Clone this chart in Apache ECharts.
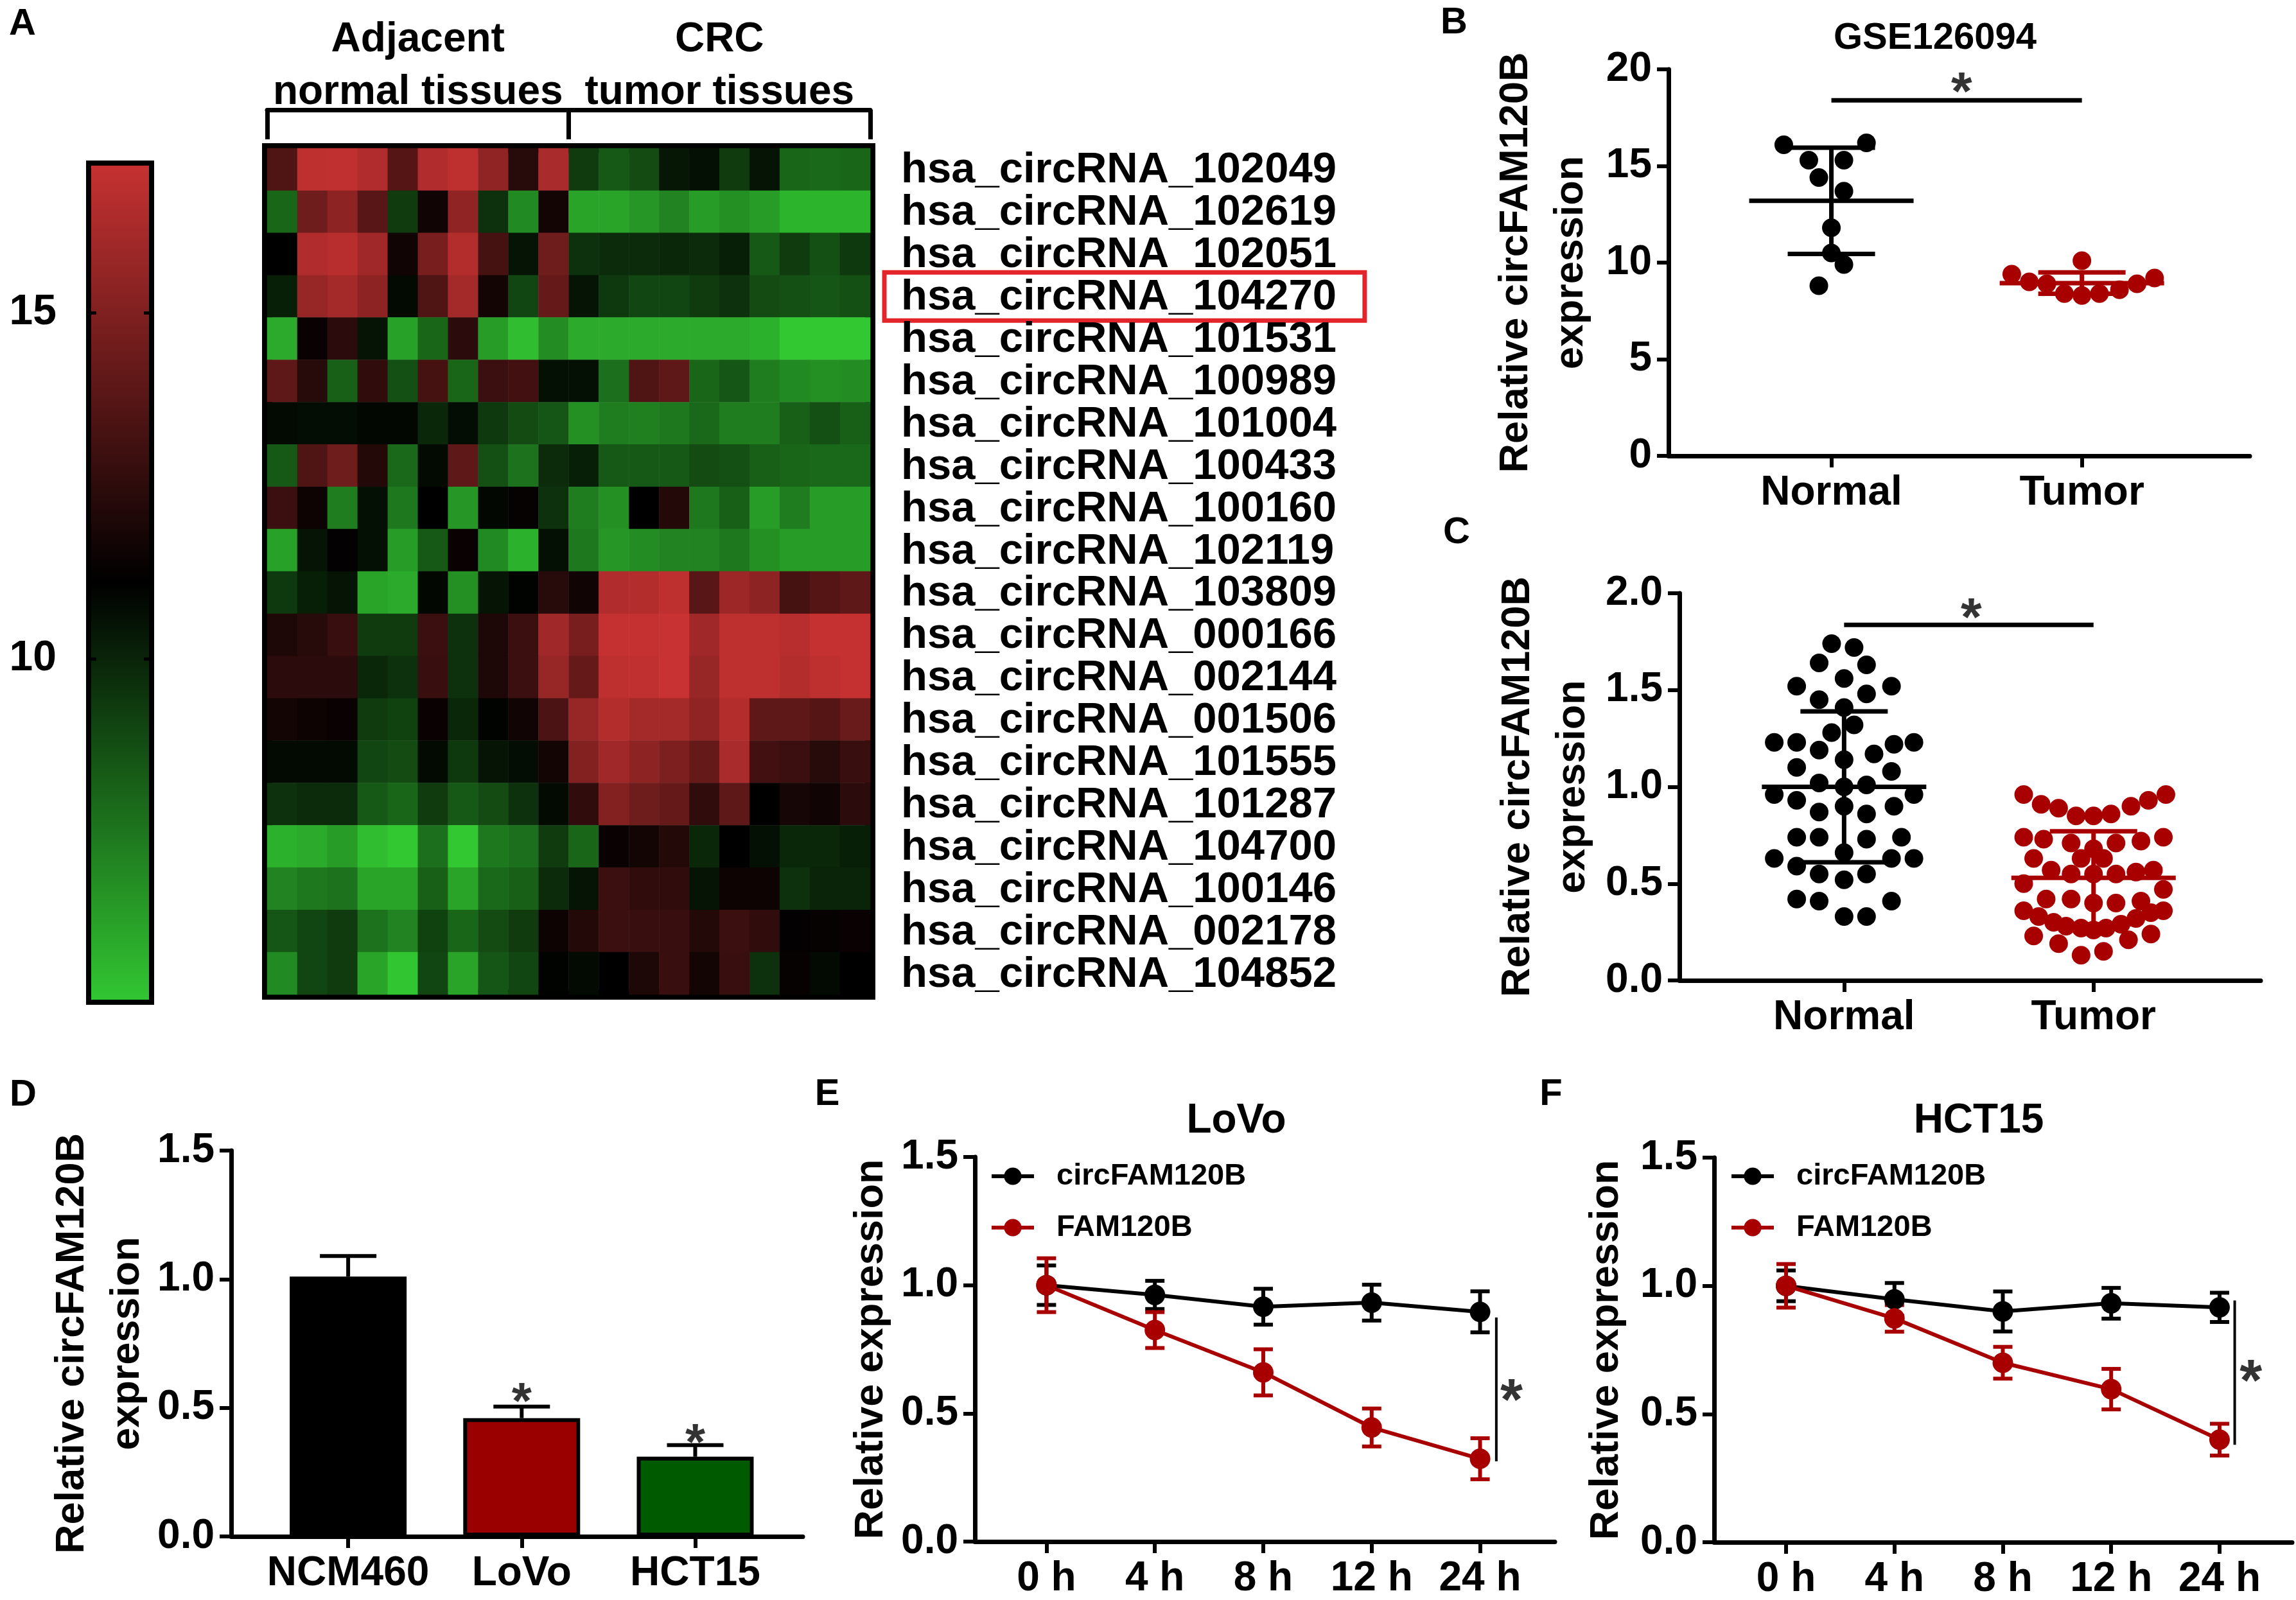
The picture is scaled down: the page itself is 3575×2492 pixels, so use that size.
<!DOCTYPE html>
<html>
<head>
<meta charset="utf-8">
<script src="https://cdn.jsdelivr.net/npm/echarts@6/dist/echarts.min.js"></script>
<style>
html, body { margin: 0; padding: 0; background: #fff; }
#main { width: 3575px; height: 2492px; }
</style>
</head>
<body>
<div id="main"></div>
<script>
// ---- A: heatmap ----
var rowNames = ['hsa_circRNA_102049', 'hsa_circRNA_102619', 'hsa_circRNA_102051', 'hsa_circRNA_104270',
    'hsa_circRNA_101531', 'hsa_circRNA_100989', 'hsa_circRNA_101004', 'hsa_circRNA_100433',
    'hsa_circRNA_100160', 'hsa_circRNA_102119', 'hsa_circRNA_103809', 'hsa_circRNA_000166',
    'hsa_circRNA_002144', 'hsa_circRNA_001506', 'hsa_circRNA_101555', 'hsa_circRNA_101287',
    'hsa_circRNA_104700', 'hsa_circRNA_100146', 'hsa_circRNA_002178', 'hsa_circRNA_104852'];
var highlightRow = 'hsa_circRNA_104270';
var sampleNames = ['N1', 'N2', 'N3', 'N4', 'N5', 'N6', 'N7', 'N8', 'N9', 'N10',
    'T1', 'T2', 'T3', 'T4', 'T5', 'T6', 'T7', 'T8', 'T9', 'T10'];
var groupNames = ['Adjacent\nnormal tissues', 'CRC\ntumor tissues'];
// one row per circRNA, 10 normal then 10 tumor samples
var heatValues = [
    [13.5, 16.9, 17.0, 16.5, 13.7, 16.5, 16.9, 15.5, 12.3, 16.3, 9.3, 8.4, 8.8, 10.4, 10.6, 9.3, 10.5, 8.0, 7.9, 8.0],
    [8.0, 14.5, 15.4, 13.8, 9.3, 11.6, 15.5, 9.6, 6.9, 11.7, 6.1, 6.1, 6.5, 7.1, 6.3, 6.7, 6.3, 5.6, 5.6, 5.6],
    [11.1, 16.5, 16.7, 16.0, 11.6, 14.8, 16.6, 13.2, 10.5, 14.5, 9.6, 9.8, 9.8, 9.9, 9.8, 10.2, 8.4, 9.3, 8.7, 9.4],
    [10.2, 15.7, 16.1, 15.4, 10.8, 13.5, 16.1, 11.7, 9.0, 14.2, 10.5, 9.4, 9.0, 9.0, 9.3, 9.6, 8.8, 8.7, 8.5, 8.7],
    [5.9, 11.4, 12.4, 10.5, 6.2, 8.0, 12.4, 6.3, 5.3, 6.8, 5.9, 5.9, 5.9, 5.9, 5.9, 5.9, 5.7, 5.0, 5.0, 5.0],
    [14.0, 12.3, 8.2, 12.6, 8.7, 13.2, 8.0, 12.9, 13.1, 10.6, 10.6, 7.7, 13.5, 14.0, 8.0, 8.5, 7.3, 6.9, 6.7, 6.8],
    [10.8, 10.7, 10.7, 10.9, 10.9, 9.9, 10.7, 9.4, 8.8, 8.5, 6.7, 7.3, 7.2, 7.4, 7.9, 7.3, 7.3, 8.2, 8.7, 8.2],
    [8.4, 13.5, 14.5, 12.2, 7.9, 10.8, 14.0, 8.7, 7.6, 9.8, 10.2, 8.4, 8.4, 8.4, 8.8, 8.7, 8.2, 8.0, 7.9, 7.9],
    [12.9, 11.5, 7.3, 10.6, 7.4, 11.1, 6.5, 10.9, 11.3, 9.6, 7.3, 6.7, 11.1, 12.2, 7.4, 8.2, 6.3, 7.3, 6.3, 6.3],
    [6.2, 10.5, 11.2, 10.6, 6.3, 8.4, 11.4, 6.9, 5.7, 10.6, 7.4, 6.5, 6.8, 7.1, 7.1, 7.4, 6.7, 6.3, 6.3, 6.3],
    [9.4, 10.2, 10.5, 6.1, 5.9, 10.9, 6.7, 10.5, 11.0, 12.3, 11.6, 16.5, 16.6, 16.9, 13.8, 15.9, 15.4, 13.2, 13.7, 14.0],
    [12.0, 12.3, 12.8, 9.3, 9.3, 12.9, 9.6, 12.0, 12.9, 16.0, 14.8, 17.1, 17.1, 17.2, 16.0, 16.9, 16.9, 16.7, 17.1, 17.1],
    [12.4, 12.4, 12.4, 9.9, 9.6, 12.8, 9.6, 12.0, 12.9, 15.7, 14.2, 16.9, 17.0, 17.2, 15.7, 16.9, 16.9, 16.6, 16.9, 17.1],
    [11.7, 11.5, 11.4, 9.3, 9.1, 11.4, 9.9, 11.0, 11.6, 13.4, 15.7, 16.6, 16.1, 16.1, 15.5, 16.6, 14.0, 14.0, 13.7, 14.3],
    [10.8, 10.8, 10.8, 9.0, 8.8, 10.8, 9.4, 10.5, 10.7, 11.7, 15.1, 16.0, 15.4, 14.9, 14.2, 16.3, 13.1, 12.9, 12.3, 12.8],
    [9.6, 9.8, 9.8, 8.4, 8.0, 9.3, 8.4, 8.8, 9.6, 10.8, 12.6, 15.1, 14.5, 14.2, 12.6, 14.0, 11.1, 11.8, 11.6, 12.4],
    [5.7, 5.9, 6.3, 5.3, 5.0, 7.7, 5.0, 7.4, 7.7, 9.3, 8.0, 11.4, 11.7, 12.2, 9.9, 11.1, 10.6, 9.9, 9.9, 10.2],
    [7.1, 7.4, 7.6, 6.1, 6.1, 8.2, 6.1, 7.9, 8.2, 9.8, 10.5, 12.9, 12.6, 12.6, 10.5, 11.5, 11.5, 9.6, 10.0, 10.0],
    [8.5, 9.0, 9.3, 7.6, 7.1, 9.1, 8.0, 8.8, 9.3, 11.5, 12.2, 12.9, 12.8, 12.8, 12.2, 12.9, 12.6, 11.2, 11.3, 11.4],
    [6.9, 9.0, 9.3, 6.1, 5.1, 9.0, 6.1, 8.5, 9.0, 11.0, 10.8, 11.1, 12.0, 12.8, 11.7, 12.8, 9.6, 11.3, 10.8, 11.1]
];
var scaleMin = 5;
var scaleMax = 17.2;
var colorbarTicks = [10, 15];

// ---- B: GSE126094 ----
var groupLabels = ['Normal', 'Tumor'];
var bNormal = [16.1, 16.2, 15.3, 15.3, 14.4, 13.7, 11.8, 10.5, 9.9, 8.8];
var bNormalJitter = [-0.19, 0.14, -0.09, 0.05, -0.05, 0.05, 0, 0, 0.05, -0.05];
var bTumor = [9.4, 9.0, 8.9, 8.4, 10.1, 8.3, 8.4, 8.6, 8.9, 9.2];
var bTumorJitter = [-0.28, -0.21, -0.14, -0.07, 0, 0, 0.07, 0.15, 0.22, 0.29];
var bMean = [13.2, 8.94];
var bSD = [2.75, 0.55];
var bSig = [18.4, 19.3];   // bar level, star level

// ---- C: tissue cohort ----
var cNormal = [1.74, 1.72, 1.64, 1.63, 1.52, 1.56, 1.52, 1.45, 1.41, 1.48,
    1.32, 1.28, 1.23, 1.23, 1.22, 1.23, 1.19, 1.17, 1.14, 1.10,
    1.08, 1.02, 1.00, 1.01, 0.96, 0.96, 0.93, 0.90, 0.87, 0.90,
    0.86, 0.74, 0.74, 0.73, 0.74, 0.66, 0.63, 0.63, 0.63, 0.59,
    0.55, 0.52, 0.55, 0.42, 0.41, 0.41, 0.33, 0.33];
var cNormalJitter = [-0.05, 0.04, -0.10, 0.09, -0.19, 0, 0.19, -0.10, 0, 0.09,
    0.04, -0.05, -0.28, -0.19, 0.20, 0.28, -0.10, 0.12, 0, -0.19,
    0.19, -0.10, 0, 0.09, -0.28, 0.28, -0.19, 0.20, -0.10, 0,
    0.09, -0.19, -0.10, 0.09, 0.23, 0, -0.28, 0.28, 0.19, -0.19,
    -0.10, 0, 0.09, -0.19, -0.10, 0.19, 0, 0.09];
var cTumor = [0.96, 0.91, 0.89, 0.85, 0.85, 0.86, 0.90, 0.93, 0.96,
    0.74, 0.73, 0.71, 0.68, 0.71, 0.72, 0.74,
    0.63, 0.63, 0.63,
    0.57, 0.55, 0.55, 0.55, 0.56, 0.57,
    0.50, 0.47,
    0.42, 0.42, 0.40, 0.40, 0.41,
    0.36, 0.36,
    0.33, 0.30, 0.28, 0.27, 0.26, 0.27, 0.29, 0.32, 0.35,
    0.23, 0.19, 0.21, 0.24,
    0.13, 0.15];
var cTumorJitter = [-0.28, -0.21, -0.14, -0.07, 0, 0.07, 0.15, 0.22, 0.29,
    -0.28, -0.20, -0.09, 0, 0.09, 0.19, 0.28,
    -0.24, -0.05, 0.04,
    -0.17, -0.09, 0, 0.09, 0.17, 0.24,
    -0.28, 0.28,
    -0.19, -0.09, 0, 0.09, 0.19,
    -0.28, 0.28,
    -0.22, -0.16, -0.11, -0.05, 0, 0.05, 0.11, 0.17, 0.23,
    -0.24, -0.14, 0.14, 0.23,
    -0.05, 0.04];
var cMean = [1.0, 0.53];
var cSD = [0.39, 0.24];
var cSig = [1.837, 1.92];

// ---- D: cell lines ----
var dCells = ['NCM460', 'LoVo', 'HCT15'];
var dMean = [1.01, 0.46, 0.31];
var dErr = [0.08, 0.045, 0.045];
var dStars = [null, 0.56, 0.40];

// ---- E / F: time course ----
var timeLabels = ['0 h', '4 h', '8 h', '12 h', '24 h'];
var eCirc = [1.0, 0.962, 0.916, 0.932, 0.896];
var eCircErr = [0.077, 0.055, 0.07, 0.07, 0.08];
var eFam = [1.0, 0.825, 0.66, 0.445, 0.323];
var eFamErr = [0.105, 0.07, 0.09, 0.074, 0.08];
var eSig = [4.15, 0.874, 0.313, 4.29, 0.59];   // x, top, bottom, star x, star y
var fCirc = [1.0, 0.947, 0.90, 0.932, 0.916];
var fCircErr = [0.06, 0.064, 0.078, 0.06, 0.057];
var fFam = [1.0, 0.873, 0.70, 0.597, 0.40];
var fFamErr = [0.085, 0.052, 0.062, 0.079, 0.062];
var fSig = [4.14, 0.943, 0.38, 4.29, 0.668];

// ---- styling ----
var FONT = '"Liberation Sans", Arial, Helvetica, sans-serif';
var RED = '#a80000';
var BLACK = '#000000';
var lineAxis = { color: BLACK, width: 7 };
var tickStyle = { color: BLACK, width: 6 };

function yValueAxis(grid, max, interval, digits, name, gap) {
    return {
        type: 'value', gridIndex: grid, min: 0, max: max, interval: interval,
        name: name, nameLocation: 'middle', nameRotate: 90, nameGap: gap,
        nameTextStyle: { fontSize: 63, fontWeight: 'bold', color: BLACK, fontFamily: FONT, lineHeight: 86 },
        axisLine: { show: true, onZero: false, lineStyle: lineAxis },
        axisTick: { show: true, length: 18, lineStyle: tickStyle },
        axisLabel: {
            fontSize: 64, fontWeight: 'bold', color: BLACK, fontFamily: FONT, margin: 26,
            formatter: function (v) { return v.toFixed(digits); }
        },
        splitLine: { show: false }
    };
}

function xValueAxis(grid, min, max, labels, first) {
    var pos = labels.map(function (l, i) { return i + first; });
    return {
        type: 'value', gridIndex: grid, min: min, max: max,
        axisLine: { show: true, onZero: false, lineStyle: lineAxis },
        axisTick: { show: true, length: 18, customValues: pos, lineStyle: tickStyle },
        axisLabel: {
            customValues: pos, fontSize: 64, fontWeight: 'bold', color: BLACK, fontFamily: FONT, margin: 26,
            formatter: function (v) { return labels[Math.round(v) - first]; }
        },
        splitLine: { show: false }
    };
}

// mean line + SD whiskers (scatter panels)
function meanSdItem(params, api) {
    var x = api.value(0), m = api.value(1), s = api.value(2);
    var c = api.coord([x, m]);
    var hi = api.coord([x, m + s]);
    var lo = api.coord([x, m - s]);
    var st = { stroke: api.visual('color'), lineWidth: 7 };
    return {
        type: 'group', children: [
            { type: 'line', shape: { x1: c[0] - 128, y1: c[1], x2: c[0] + 128, y2: c[1] }, style: st },
            { type: 'line', shape: { x1: c[0], y1: hi[1], x2: c[0], y2: lo[1] }, style: st },
            { type: 'line', shape: { x1: c[0] - 68, y1: hi[1], x2: c[0] + 68, y2: hi[1] }, style: st },
            { type: 'line', shape: { x1: c[0] - 68, y1: lo[1], x2: c[0] + 68, y2: lo[1] }, style: st }
        ]
    };
}

function errBar(capHalf, upOnly) {
    return function (params, api) {
        var x = api.value(0), y = api.value(1), e = api.value(2);
        var top = api.coord([x, y + e]);
        var bot = api.coord([x, upOnly ? y : y - e]);
        var st = { stroke: api.visual('color'), lineWidth: 6 };
        var ch = [
            { type: 'line', shape: { x1: top[0], y1: top[1], x2: bot[0], y2: bot[1] }, style: st },
            { type: 'line', shape: { x1: top[0] - capHalf, y1: top[1], x2: top[0] + capHalf, y2: top[1] }, style: st }
        ];
        if (!upOnly) {
            ch.push({ type: 'line', shape: { x1: bot[0] - capHalf, y1: bot[1], x2: bot[0] + capHalf, y2: bot[1] }, style: st });
        }
        return { type: 'group', children: ch };
    };
}

function starSeries(axis, data, size) {
    return {
        type: 'scatter', xAxisIndex: axis, yAxisIndex: axis, symbolSize: 1, silent: true,
        itemStyle: { color: 'transparent' },
        label: {
            show: true, position: 'inside', formatter: '*', fontSize: size, fontWeight: 'bold',
            color: BLACK, fontFamily: FONT, offset: [0, Math.round(size * 0.23)]
        },
        data: data
    };
}

function sigLine(axis, pts, width) {
    return {
        type: 'line', xAxisIndex: axis, yAxisIndex: axis, symbol: 'none', silent: true,
        lineStyle: { color: BLACK, width: width }, data: pts
    };
}

function dots(axis, color, data) {
    return {
        type: 'scatter', xAxisIndex: axis, yAxisIndex: axis, symbolSize: 29, silent: true,
        itemStyle: { color: color, opacity: 1 }, data: data
    };
}

function jittered(center, ys, jit) {
    return ys.map(function (y, i) { return [center + jit[i], y]; });
}

function pairs(ys) {
    return ys.map(function (y, i) { return [i, y]; });
}

function triples(ys, es) {
    return ys.map(function (y, i) { return [i, y, es[i]]; });
}

// ---- heatmap data ----
var heatData = [];
heatValues.forEach(function (row, r) {
    row.forEach(function (v, c) { heatData.push([c, r, v]); });
});

var heatLabelStyle = { fontSize: 67, fontWeight: 'bold', fontFamily: FONT, color: BLACK, lineHeight: 70, padding: [6, 44, 2, 26] };
var heatLabelBox = Object.assign({}, heatLabelStyle, { borderColor: '#e3252b', borderWidth: 7 });

var series = [];
// 0: colour scale bar
series.push({
    type: 'bar', xAxisIndex: 0, yAxisIndex: 0, barWidth: '100%', silent: true,
    itemStyle: {
        borderColor: BLACK, borderWidth: 8,
        color: { type: 'linear', x: 0, y: 0, x2: 0, y2: 1, colorStops: [
            { offset: 0, color: '#c83232' }, { offset: 0.5, color: '#000000' }, { offset: 1, color: '#32c832' }] }
    },
    data: [scaleMax]
});
// 1: heatmap
series.push({ type: 'heatmap', xAxisIndex: 1, yAxisIndex: 2, data: heatData, silent: true });

// B
series.push(dots(3, BLACK, jittered(1, bNormal, bNormalJitter)));
series.push(dots(3, RED, jittered(2, bTumor, bTumorJitter)));
series.push({ type: 'custom', xAxisIndex: 3, yAxisIndex: 3, renderItem: meanSdItem, silent: true,
    data: [{ value: [1, bMean[0], bSD[0]], itemStyle: { color: BLACK } }, { value: [2, bMean[1], bSD[1]], itemStyle: { color: RED } }] });
series.push(sigLine(3, [[1, bSig[0]], [2, bSig[0]]], 7));
series.push(starSeries(3, [[1.52, bSig[1]]], 84));

// C
series.push(dots(4, BLACK, jittered(1, cNormal, cNormalJitter)));
series.push(dots(4, RED, jittered(2, cTumor, cTumorJitter)));
series.push({ type: 'custom', xAxisIndex: 4, yAxisIndex: 4, renderItem: meanSdItem, silent: true,
    data: [{ value: [1, cMean[0], cSD[0]], itemStyle: { color: BLACK } }, { value: [2, cMean[1], cSD[1]], itemStyle: { color: RED } }] });
series.push(sigLine(4, [[1, cSig[0]], [2, cSig[0]]], 7));
series.push(starSeries(4, [[1.51, cSig[1]]], 84));

// D
var dColors = [BLACK, '#9b0000', '#005a00'];
series.push({ type: 'custom', xAxisIndex: 5, yAxisIndex: 5, renderItem: errBar(44, true), silent: true,
    itemStyle: { color: BLACK },
    data: dMean.map(function (m, i) { return [i + 1, m, dErr[i]]; }) });
series.push({ type: 'bar', xAxisIndex: 5, yAxisIndex: 5, barWidth: 182, silent: true,
    data: dMean.map(function (m, i) {
        return { value: [i + 1, m], itemStyle: { color: dColors[i], borderColor: BLACK, borderWidth: 6 } };
    }) });
series.push(starSeries(5, dStars.map(function (s, i) { return s === null ? null : [i + 1, s]; })
    .filter(function (p) { return p; }), 80));

// E and F
function timePanel(axis, circ, circErr, fam, famErr, sig) {
    var common = { xAxisIndex: axis, yAxisIndex: axis };
    return [
        Object.assign({ type: 'custom', renderItem: errBar(15, false), silent: true, itemStyle: { color: BLACK },
            data: triples(circ, circErr) }, common),
        Object.assign({ type: 'line', name: 'circFAM120B', symbol: 'circle', symbolSize: 32,
            itemStyle: { color: BLACK }, lineStyle: { color: BLACK, width: 6 }, data: pairs(circ) }, common),
        Object.assign({ type: 'custom', renderItem: errBar(15, false), silent: true, itemStyle: { color: RED },
            data: triples(fam, famErr) }, common),
        Object.assign({ type: 'line', name: 'FAM120B', symbol: 'circle', symbolSize: 32,
            itemStyle: { color: RED }, lineStyle: { color: RED, width: 6 }, data: pairs(fam) }, common),
        sigLine(axis, [[sig[0], sig[1]], [sig[0], sig[2]]], 4),
        starSeries(axis, [[sig[3], sig[4]]], 90)
    ];
}
series = series.concat(timePanel(6, eCirc, eCircErr, eFam, eFamErr, eSig));
series = series.concat(timePanel(7, fCirc, fCircErr, fFam, fFamErr, fSig));

function timeLegend(left) {
    return {
        data: ['circFAM120B', 'FAM120B'], orient: 'vertical', left: left, top: 1800, itemGap: 26,
        itemWidth: 66, itemHeight: 34, selectedMode: false,
        lineStyle: { width: 6 },
        textStyle: { fontSize: 47, fontWeight: 'bold', color: BLACK, fontFamily: FONT, lineHeight: 54, padding: [0, 0, 0, 30] }
    };
}

var option = {
    animation: false,
    backgroundColor: '#ffffff',
    textStyle: { fontFamily: FONT },
    grid: [
        { left: 134, top: 250, width: 106, height: 1315 },
        { left: 416, top: 231, width: 939, height: 1318, show: true, borderColor: BLACK, borderWidth: 16 },
        { left: 2598, top: 108, width: 905, height: 602 },
        { left: 2615, top: 924, width: 905, height: 603 },
        { left: 360, top: 1792, width: 890, height: 601 },
        { left: 1518, top: 1802, width: 903, height: 599 },
        { left: 2669, top: 1803, width: 900, height: 600 }
    ],
    xAxis: [
        { type: 'category', gridIndex: 0, data: ['scale'], show: false },
        { type: 'category', gridIndex: 1, data: sampleNames, show: false },
        {
            type: 'category', gridIndex: 1, data: groupNames, position: 'top', offset: 60, boundaryGap: true,
            axisLine: { show: true, lineStyle: lineAxis },
            axisTick: { show: true, inside: true, length: 46, lineStyle: { color: BLACK, width: 7 } },
            axisLabel: { interval: 0, margin: -14, fontSize: 64, fontWeight: 'bold', color: BLACK, fontFamily: FONT, lineHeight: 82 },
            splitLine: { show: false }
        },
        xValueAxis(2, 0.35, 2.67, groupLabels, 1),
        xValueAxis(3, 0.34, 2.67, groupLabels, 1),
        xValueAxis(4, 0.326, 3.62, dCells, 1),
        xValueAxis(5, -0.66, 4.69, timeLabels, 0),
        xValueAxis(6, -0.664, 4.67, timeLabels, 0)
    ],
    yAxis: [
        {
            type: 'value', gridIndex: 0, min: scaleMin, max: scaleMax, startValue: scaleMin, position: 'left', z: 5,
            axisLine: { show: false },
            axisTick: { show: true, inside: true, length: 16, customValues: colorbarTicks, lineStyle: { color: BLACK, width: 5 } },
            axisLabel: { customValues: colorbarTicks, margin: 46, fontSize: 66, fontWeight: 'bold', color: BLACK, fontFamily: FONT },
            splitLine: { show: false }
        },
        {
            type: 'value', gridIndex: 0, min: scaleMin, max: scaleMax, startValue: scaleMin, position: 'right', z: 5,
            axisLine: { show: false },
            axisTick: { show: true, inside: true, length: 16, customValues: colorbarTicks, lineStyle: { color: BLACK, width: 5 } },
            axisLabel: { show: false },
            splitLine: { show: false }
        },
        {
            type: 'category', gridIndex: 1, data: rowNames, inverse: true, position: 'right',
            axisLine: { show: false }, axisTick: { show: false },
            axisLabel: {
                interval: 0, margin: 22,
                formatter: function (v) { return (v === highlightRow ? '{hl|' : '{n|') + v + '}'; },
                rich: { n: heatLabelStyle, hl: heatLabelBox }
            }
        },
        yValueAxis(2, 20, 5, 0, 'Relative circFAM120B\nexpression', 108),
        yValueAxis(3, 2, 0.5, 1, 'Relative circFAM120B\nexpression', 122),
        yValueAxis(4, 1.5, 0.5, 1, 'Relative circFAM120B\nexpression', 111),
        yValueAxis(5, 1.5, 0.5, 1, 'Relative expression', 116),
        yValueAxis(6, 1.5, 0.5, 1, 'Relative expression', 124)
    ],
    visualMap: {
        show: false, type: 'continuous', seriesIndex: 1, min: scaleMin, max: scaleMax,
        inRange: { color: ['#32c832', '#000000', '#c83232'] }
    },
    legend: [timeLegend(1536), timeLegend(2688)],
    graphic: [
        { type: 'text', x: 35, y: 38, style: { text: 'A', font: 'bold 58px ' + FONT, fill: BLACK, align: 'center', verticalAlign: 'middle' } },
        { type: 'text', x: 2264, y: 36, style: { text: 'B', font: 'bold 58px ' + FONT, fill: BLACK, align: 'center', verticalAlign: 'middle' } },
        { type: 'text', x: 2268, y: 830, style: { text: 'C', font: 'bold 58px ' + FONT, fill: BLACK, align: 'center', verticalAlign: 'middle' } },
        { type: 'text', x: 36, y: 1706, style: { text: 'D', font: 'bold 58px ' + FONT, fill: BLACK, align: 'center', verticalAlign: 'middle' } },
        { type: 'text', x: 1288, y: 1705, style: { text: 'E', font: 'bold 58px ' + FONT, fill: BLACK, align: 'center', verticalAlign: 'middle' } },
        { type: 'text', x: 2415, y: 1705, style: { text: 'F', font: 'bold 58px ' + FONT, fill: BLACK, align: 'center', verticalAlign: 'middle' } },
        { type: 'text', x: 3013, y: 60, style: { text: 'GSE126094', font: 'bold 58px ' + FONT, fill: BLACK, align: 'center', verticalAlign: 'middle' } },
        { type: 'text', x: 1925, y: 1746, style: { text: 'LoVo', font: 'bold 64px ' + FONT, fill: BLACK, align: 'center', verticalAlign: 'middle' } },
        { type: 'text', x: 3081, y: 1746, style: { text: 'HCT15', font: 'bold 64px ' + FONT, fill: BLACK, align: 'center', verticalAlign: 'middle' } }
    ],
    series: series
};

var chart = echarts.init(document.getElementById('main'));
chart.setOption(option);
</script>
</body>
</html>
